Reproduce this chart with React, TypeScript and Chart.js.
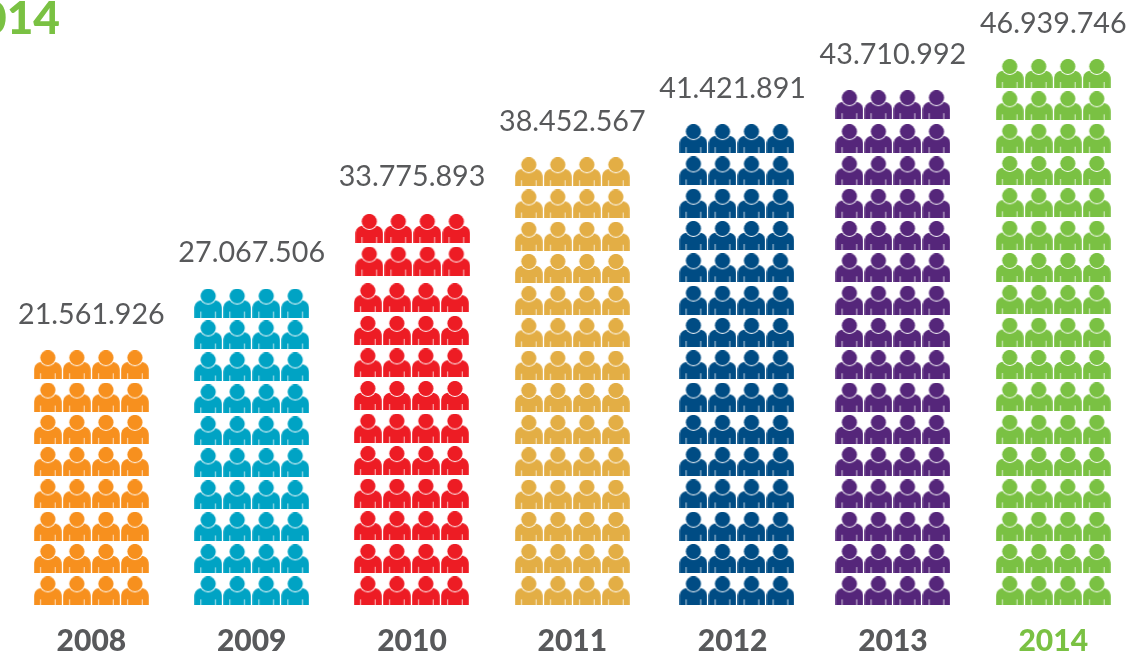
import React, { useEffect, useRef } from "react";
import { Chart, registerables } from "chart.js";

Chart.register(...registerables);

const years = [2008, 2009, 2010, 2011, 2012, 2013, 2014];
const totals = [21561926, 27067506, 33775893, 38452567, 41421891, 43710992, 46939746];
const iconRows = [8, 10, 12, 14, 15, 16, 17];
const iconColumns = [-1.5, -0.5, 0.5, 1.5];
const iconCenters = [2008, 2009, 2009.996, 2011, 2012.027, 2013, 2014];
const rowSteps = [1, 0.99, 1.008, 0.998, 1, 1, 1.001];
// Rows: some stacks have a small break above one row.
const breakAboveRow = [0, 0, 9, 0, 0, 14, 0];
const breakHeight = [0, 0, 0.13, 0, 0, 0.05, 0];
const breakShift = [0, 0, 0.009, 0, 0, 0, 0];
const labelLift = [50, 50, 52, 50, 50, 50, 50];
const colors = ["#F7901E", "#00A3C4", "#ED1C24", "#E3AE45", "#004C84", "#55267A", "#7AC143"];
const titleText = "2014";
const TEXT = "#58595B";
const FONT = "Lato, 'Noto Sans', sans-serif";

function personIcon(color: string) {
  const c = document.createElement("canvas");
  c.width = 28;
  c.height = 29;
  const g = c.getContext("2d")!;
  g.fillStyle = color;
  g.beginPath();
  g.moveTo(0.2, 29);
  g.lineTo(0.2, 20);
  g.bezierCurveTo(0.2, 15, 3, 12, 9, 11.5);
  g.lineTo(19, 11.5);
  g.bezierCurveTo(25, 12, 27.8, 15, 27.8, 20);
  g.lineTo(27.8, 29);
  g.closePath();
  g.fill();
  g.fillStyle = "#fff";
  g.beginPath();
  g.arc(14, 7.5, 8.4, 0, Math.PI * 2);
  g.fill();
  g.fillStyle = color;
  g.beginPath();
  g.arc(14, 7.5, 7.6, 0, Math.PI * 2);
  g.fill();
  g.fillStyle = "rgba(255,255,255,0.75)";
  g.fillRect(6.2, 23, 1, 6);
  g.fillRect(20.8, 23, 1, 6);
  return c;
}

function rowPosition(i: number, r: number) {
  const jog = breakHeight[i] > 0 && r > breakAboveRow[i] ? breakHeight[i] : 0;
  return r * rowSteps[i] + jog;
}

function pointsFor(i: number) {
  const pts: { x: number; y: number }[] = [];
  for (let r = 0; r < iconRows[i]; r++) {
    const shift = r > breakAboveRow[i] ? breakShift[i] : 0;
    for (const col of iconColumns) {
      pts.push({ x: iconCenters[i] + shift + col * 0.181, y: rowPosition(i, r) });
    }
  }
  return pts;
}

const formatTotal = (v: number) => String(v).replace(/\B(?=(\d{3})+$)/g, ".");

const annotations = {
  id: "annotations",
  afterDatasetsDraw(chart: any) {
    const { ctx, scales } = chart;
    ctx.save();
    ctx.fillStyle = TEXT;
    ctx.font = `400 28.7px ${FONT}`;
    ctx.textAlign = "center";
    ctx.textBaseline = "middle";
    years.forEach((year, i) => {
      ctx.fillText(
        formatTotal(totals[i]),
        scales.x.getPixelForValue(year),
        scales.y.getPixelForValue(rowPosition(i, iconRows[i] - 1)) - labelLift[i]
      );
    });
    ctx.fillStyle = colors[6];
    ctx.font = `900 46px ${FONT}`;
    ctx.textAlign = "right";
    ctx.textBaseline = "alphabetic";
    ctx.fillText(titleText, 60, 34);
    ctx.restore();
  },
};

export default function App() {
  const ref = useRef<HTMLCanvasElement>(null);
  useEffect(() => {
    const chart = new Chart(ref.current!, {
      type: "scatter",
      data: {
        datasets: years.map((year, i) => ({
          label: String(year),
          data: pointsFor(i),
          pointStyle: personIcon(colors[i]),
          pointRadius: 14,
          pointHoverRadius: 14,
          backgroundColor: colors[i],
          borderWidth: 0,
        })),
      },
      options: {
        animation: false,
        responsive: false,
        events: [],
        layout: { padding: 0, autoPadding: false },
        plugins: { legend: { display: false }, tooltip: { enabled: false } },
        scales: {
          x: {
            type: "linear",
            min: 2007.43,
            max: 2014.485,
            grid: { display: false },
            border: { display: false },
            afterFit(scale: any) {
              scale.height = 46;
            },
            ticks: {
              stepSize: 1,
              includeBounds: false,
              autoSkip: false,
              maxRotation: 0,
              padding: 8,
              font: { family: FONT, size: 30, weight: "900" },
              color: (ctx: any) => (ctx.tick.value === 2014 ? colors[6] : TEXT),
              callback: (v: any) => String(v),
            },
          },
          y: { display: false, min: -0.5, max: 18.29 },
        },
      },
      plugins: [annotations],
    } as any);
    return () => chart.destroy();
  }, []);
  return (
    <canvas
      ref={ref}
      width={1131}
      height={653}
      style={{ position: "absolute", left: 0, top: 0, display: "block" }}
    />
  );
}
